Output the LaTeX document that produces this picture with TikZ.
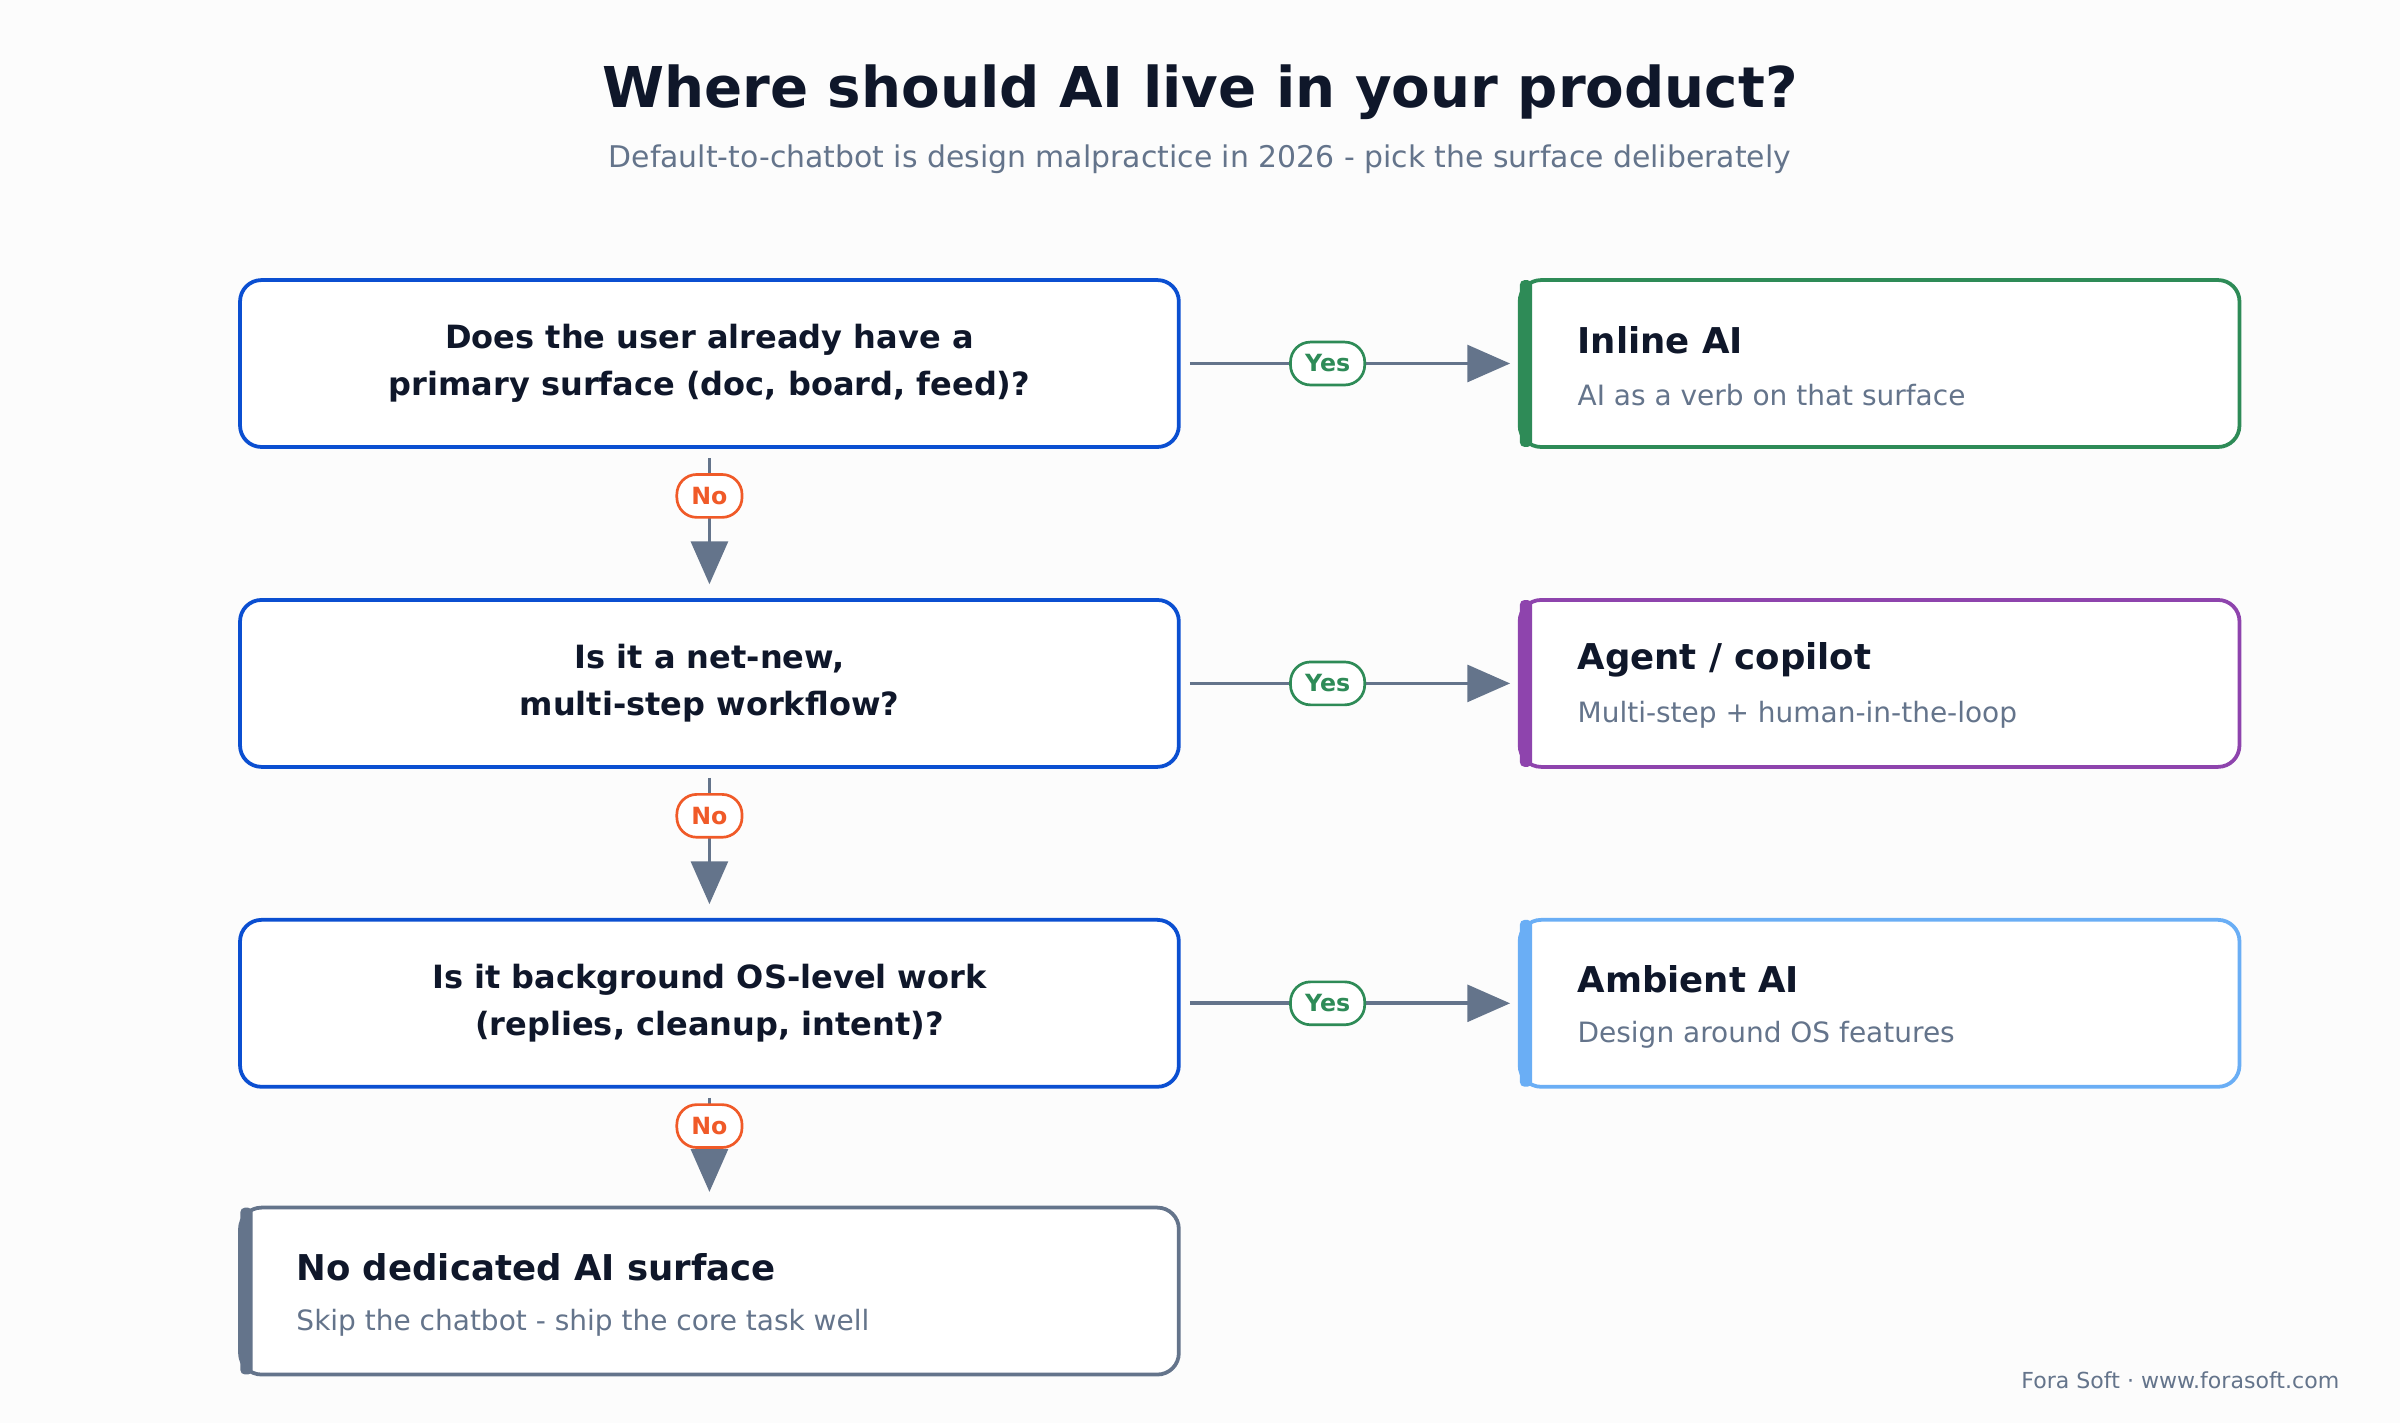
\documentclass[tikz,border=0pt]{standalone}
\usepackage{fontspec}
\setmainfont{DejaVu Sans}
\usetikzlibrary{arrows.meta,positioning}
\definecolor{ink}{HTML}{0F172A}
\definecolor{muted}{HTML}{64748B}
\definecolor{qblue}{HTML}{0B4FD1}
\definecolor{inlinecolor}{HTML}{2E8B57}
\definecolor{agentcolor}{HTML}{8E44AD}
\definecolor{ambientcolor}{HTML}{6AAEF5}
\definecolor{nocolor}{HTML}{F05A28}

\begin{document}
\begin{tikzpicture}[
    x=0.01cm, y=-0.01cm,
    question/.style={rectangle, rounded corners=0.14cm, draw=qblue, line width=0.7pt, fill=white, minimum width=6.13cm, minimum height=1.09cm, align=center, font=\fontsize{5.95}{8.8}\selectfont\bfseries, text=ink},
    result/.style={rectangle, rounded corners=0.14cm, draw=#1, line width=0.7pt, fill=white, minimum width=4.7cm, minimum height=1.09cm},
    bar/.style={fill=#1, rounded corners=0.03cm},
    rtitle/.style={anchor=west, font=\fontsize{6.6}{8}\selectfont\bfseries, text=ink, inner sep=0},
    rsub/.style={anchor=west, font=\fontsize{5.2}{6}\selectfont, text=muted, inner sep=0},
    arrow/.style={-{Triangle[length=0.28cm, width=0.24cm]}, draw=muted, line width=0.7pt},
    pill/.style={rectangle, rounded corners=0.13cm, draw=#1, line width=0.5pt, fill=white, text=#1, minimum height=0.28cm, inner ysep=0, inner xsep=0.095cm, font=\fontsize{4.4}{5}\selectfont\bfseries}
]
\useasboundingbox[fill=white!98!gray] (0,0) rectangle (1568,930);

% Title
\node[font=\fontsize{10.45}{12}\selectfont\bfseries, text=ink] (title) at (784,60) {Where should AI live in your product?};
\node[font=\fontsize{5.55}{6}\selectfont, text=muted] (subtitle) at (784,104) {Default-to-chatbot is design malpractice in 2026 - pick the surface deliberately};

% Questions
\node[question] (q1) at (463.5,237.5) {Does the user already have a\\primary surface (doc, board, feed)?};
\node[question] (q2) at (463.5,446.5) {Is it a net-new,\\multi-step workflow?};
\node[question] (q3) at (463.5,655.5) {Is it background OS-level work\\(replies, cleanup, intent)?};

% Results
\node[result=inlinecolor] (r1) at (1228,237.5) {};
\fill[bar=inlinecolor] (993,183) rectangle (1001,292);
\node[rtitle] at (1030,222) {Inline AI};
\node[rsub] at (1030,258) {AI as a verb on that surface};

\node[result=agentcolor] (r2) at (1228,446.5) {};
\fill[bar=agentcolor] (993,392) rectangle (1001,501);
\node[rtitle] at (1030,431) {Agent / copilot};
\node[rsub] at (1030,467) {Multi-step + human-in-the-loop};

\node[result=ambientcolor] (r3) at (1228,655.5) {};
\fill[bar=ambientcolor] (993,601) rectangle (1001,710);
\node[rtitle] at (1030,640) {Ambient AI};
\node[rsub] at (1030,676) {Design around OS features};

\node[result=muted, minimum width=6.13cm] (r4) at (463.5,843.5) {};
\fill[bar=muted] (157,789) rectangle (165,898);
\node[rtitle] at (193,828) {No dedicated AI surface};
\node[rsub] at (193,864) {Skip the chatbot - ship the core task well};

% Yes arrows
\draw[arrow] ([xshift=0.06cm]q1.east) -- ([xshift=-0.05cm]r1.west) node[pos=0.43, pill=inlinecolor] {Yes};
\draw[arrow] ([xshift=0.06cm]q2.east) -- ([xshift=-0.05cm]r2.west) node[pos=0.43, pill=inlinecolor] {Yes};
\draw[arrow] ([xshift=0.06cm]q3.east) -- ([xshift=-0.05cm]r3.west) node[pos=0.43, pill=inlinecolor] {Yes};

% No arrows
\draw[arrow] ([yshift=-0.06cm]q1.south) -- ([yshift=0.09cm]q2.north) node[pos=0.3, pill=nocolor] {No};
\draw[arrow] ([yshift=-0.06cm]q2.south) -- ([yshift=0.09cm]q3.north) node[pos=0.3, pill=nocolor] {No};
\draw[arrow] ([yshift=-0.06cm]q3.south) -- ([yshift=0.09cm]r4.north) node[pos=0.3, pill=nocolor] {No};

% Footer
\node[anchor=east, inner sep=0, font=\fontsize{4.1}{5}\selectfont, text=muted] (footer) at (1529,902) {Fora Soft · www.forasoft.com};
\end{tikzpicture}
\end{document}
